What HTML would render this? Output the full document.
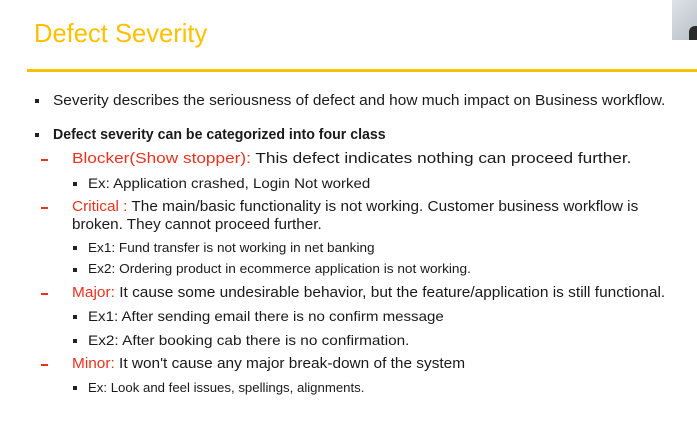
<!DOCTYPE html>
<html><head><meta charset="utf-8"><style>
body{margin:0;width:697px;height:427px;background:#fff;position:relative;overflow:hidden;font-family:"Liberation Sans",sans-serif;color:#1a1a1a}
.l{position:absolute;white-space:nowrap;transform-origin:0 50%;line-height:1}
.r{color:#e8321e}
.b{position:absolute;width:4px;height:4px;background:#222}
.d{position:absolute;width:7px;height:1.6px;background:#e8321e}
</style></head><body>
<div style="position:absolute;left:672px;top:0;width:25px;height:40px;background:linear-gradient(135deg,#dfe3e8,#b9c0c8)"><div style="position:absolute;right:0;bottom:0;width:8px;height:14px;background:#2a2a2a;border-radius:6px 0 0 0"></div></div>
<div class="l" data-w="173" style="left:34px;top:20px;font-size:26px;color:#ffc000">Defect Severity</div>
<div style="position:absolute;left:27px;top:69px;width:670px;height:3px;background:#ffc000"></div>

<div class="b" style="left:35px;top:99px"></div>
<div class="l" data-w="612" style="left:53px;top:93px;font-size:15px">Severity describes the seriousness of defect and how much impact on Business workflow.</div>
<div class="b" style="left:35px;top:133px"></div>
<div class="l" data-w="333" style="left:53px;top:127px;font-size:15px;font-weight:bold">Defect severity can be categorized into four class</div>

<div class="d" style="left:41px;top:159px"></div>
<div class="l" data-w="560" style="left:72px;top:151px;font-size:15px"><span class="r">Blocker(Show stopper):</span> This defect indicates nothing can proceed further.</div>
<div class="b" style="left:73px;top:182px"></div>
<div class="l" data-w="282" style="left:88px;top:176px;font-size:14px">Ex: Application crashed, Login Not worked</div>

<div class="d" style="left:41px;top:207px"></div>
<div class="l" data-w="566" style="left:72px;top:199px;font-size:15px"><span class="r">Critical :</span> The main/basic functionality is not working. Customer business workflow is</div>
<div class="l" data-w="250" style="left:72px;top:217px;font-size:15px">broken. They cannot proceed further.</div>
<div class="b" style="left:73px;top:246px"></div>
<div class="l" data-w="287" style="left:88px;top:241px;font-size:13px">Ex1: Fund transfer is not working in net banking</div>
<div class="b" style="left:73px;top:268px"></div>
<div class="l" data-w="383" style="left:88px;top:262px;font-size:13px">Ex2: Ordering product in ecommerce application is not working.</div>

<div class="d" style="left:41px;top:293px"></div>
<div class="l" data-w="593" style="left:72px;top:285px;font-size:15px"><span class="r">Major:</span> It cause some undesirable behavior, but the feature/application is still functional.</div>
<div class="b" style="left:73px;top:315px"></div>
<div class="l" data-w="356" style="left:88px;top:309px;font-size:14px">Ex1: After sending email there is no confirm message</div>
<div class="b" style="left:73px;top:339px"></div>
<div class="l" data-w="321" style="left:88px;top:333px;font-size:14px">Ex2: After booking cab there is no confirmation.</div>

<div class="d" style="left:41px;top:364px"></div>
<div class="l" data-w="393" style="left:72px;top:356px;font-size:15px"><span class="r">Minor:</span> It won't cause any major break-down of the system</div>
<div class="b" style="left:73px;top:386px"></div>
<div class="l" data-w="276" style="left:88px;top:381px;font-size:13px">Ex: Look and feel issues, spellings, alignments.</div>
<script>
document.querySelectorAll('.l').forEach(function(e){var w=+e.getAttribute('data-w');var a=e.scrollWidth;if(w&&a)e.style.transform='scaleX('+(w/a)+')';});
</script>
</body></html>
